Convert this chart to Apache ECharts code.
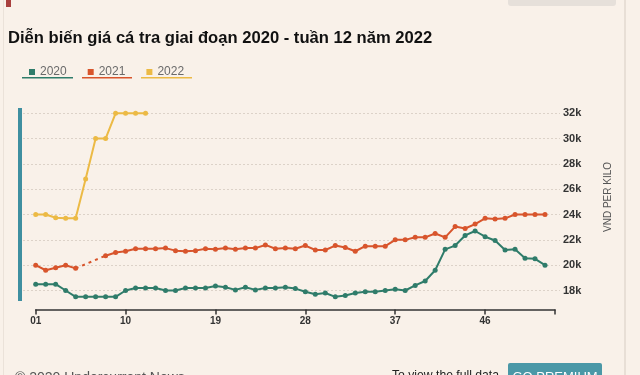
<!DOCTYPE html>
<html><head><meta charset="utf-8">
<script src="https://cdn.jsdelivr.net/npm/echarts@6/dist/echarts.min.js"></script>
<style>html,body{margin:0;padding:0;background:#f9f1e9;}#c{width:640px;height:375px;}</style>
</head><body><div id="c"></div>
<script>
// ---- data ----
var weeks = [];
for (var w = 1; w <= 53; w++) weeks.push(w < 10 ? '0' + w : '' + w);
var seriesNames = ['2020', '2021', '2022'];
var s2020 = [18500,18500,18500,18000,17500,17500,17500,17500,17500,18000,18200,18200,18200,18000,18000,18200,18200,18200,18350,18250,18050,18250,18050,18200,18200,18250,18150,17900,17700,17800,17500,17600,17800,17900,17900,18000,18100,18000,18400,18750,19600,21250,21550,22350,22700,22250,21950,21200,21250,20550,20500,20000];
var s2021 = [20000,19600,19800,20000,19750,null,null,20750,21000,21100,21300,21300,21300,21350,21150,21100,21150,21300,21250,21350,21250,21350,21350,21600,21300,21350,21300,21550,21200,21200,21550,21400,21100,21500,21500,21500,22000,22000,22200,22200,22500,22200,23050,22900,23250,23700,23650,23700,24000,24000,24000,24000];
var s2022 = [24000,24000,23750,23700,23700,26800,30000,30000,32000,32000,32000,32000];
var yTicksMin = 18000, yTicksMax = 32000, yTickStep = 2000;
var colors = ['#2f7c6a', '#d8552c', '#ecba45'];

// dashed bridge over missing weeks
function gapBridge(arr) {
  var out = arr.map(function () { return null; });
  for (var i = 0; i < arr.length; i++) {
    if (arr[i] === null) {
      var a = i - 1; while (a >= 0 && arr[a] === null) a--;
      var b = i + 1; while (b < arr.length && arr[b] === null) b++;
      if (a >= 0 && b < arr.length) { out[a] = arr[a]; out[b] = arr[b]; }
    }
  }
  return out;
}
var bridge2021 = gapBridge(s2021);

var chart = echarts.init(document.getElementById('c'));
var font = 'Liberation Sans, Arial, sans-serif';
function lineSeries(name, data, color) {
  return {
    name: name, type: 'line', data: data, xAxisIndex: 0, yAxisIndex: 0,
    symbol: 'circle', symbolSize: 5, showSymbol: true,
    itemStyle: { color: color }, lineStyle: { color: color, width: 2 },
    connectNulls: false, animation: false, z: 3
  };
}
chart.setOption({
  backgroundColor: '#f9f1e9',
  animation: false,
  color: colors,
  legend: {
    data: seriesNames, left: 24, top: 61, icon: 'rect', itemWidth: 6, itemHeight: 6, itemGap: 21,
    textStyle: { color: '#6a6a6a', fontSize: 12, fontFamily: font }, selectedMode: false
  },
  grid: [
    { left: 35.7, right: 85, top: 100.6, bottom: 65.5 },
    { left: 23, right: 80, top: 113.3, bottom: 84.5 }
  ],
  xAxis: [
    { type: 'category', gridIndex: 0, data: weeks, boundaryGap: false,
      axisLine: { lineStyle: { color: '#333', width: 1.5 } },
      axisTick: { length: 5, lineStyle: { color: '#333', width: 1.5 },
        interval: function (i) { return i % 9 === 0 || i === weeks.length - 1; } },
      axisLabel: { interval: function (i) { return i % 9 === 0; }, color: '#333', fontSize: 10, fontWeight: 'bold', fontFamily: font, margin: 7 },
      splitLine: { show: false } },
    { type: 'value', gridIndex: 1, min: 0, max: 1, show: false }
  ],
  yAxis: [
    { type: 'value', gridIndex: 0, min: 16500, max: 33000, show: false },
    { type: 'value', gridIndex: 1, position: 'right', min: yTicksMin, max: yTicksMax, interval: yTickStep,
      axisLine: { show: false }, axisTick: { show: false },
      axisLabel: { margin: 3, color: '#333', fontSize: 11, fontWeight: 'bold', fontFamily: font,
        formatter: function (v) { return (v / 1000) + 'k'; } },
      splitLine: { show: true, lineStyle: { color: '#dcd2c8', type: [2, 2], width: 1 } } }
  ],
  graphic: [
    { type: 'rect', shape: { x: 18, y: 108, width: 4, height: 193 }, style: { fill: '#3f8fa0' } },
    { type: 'rect', shape: { x: 6, y: 0, width: 5, height: 7 }, style: { fill: '#a9403e' } },
    { type: 'rect', shape: { x: 3, y: 0, width: 1, height: 375 }, style: { fill: '#ebe2d9' } },
    { type: 'rect', shape: { x: 624, y: 0, width: 2, height: 375 }, style: { fill: '#e8dfd6' } },
    { type: 'rect', shape: { x: 508, y: -4, width: 108, height: 10, r: 3 }, style: { fill: '#e6e0da' } },
    { type: 'text', x: 8, y: 38, style: { text: 'Diễn biến giá cá tra giai đoạn 2020 - tuần 12 năm 2022', fill: '#111', font: 'bold 16.6px ' + font, verticalAlign: 'middle' } },
    { type: 'rect', shape: { x: 22, y: 77, width: 51, height: 1.6 }, style: { fill: colors[0] } },
    { type: 'rect', shape: { x: 82, y: 77, width: 50, height: 1.6 }, style: { fill: colors[1] } },
    { type: 'rect', shape: { x: 141, y: 77, width: 51, height: 1.6 }, style: { fill: colors[2] } },
    { type: 'text', x: 608, y: 197, rotation: Math.PI / 2, style: { text: 'VND PER KILO', fill: '#555', font: '10px ' + font, align: 'center', verticalAlign: 'middle' } },
    { type: 'text', x: 15, y: 371, style: { text: '© 2020 Undercurrent News', fill: '#555', font: '14px ' + font, verticalAlign: 'top' } },
    { type: 'text', x: 392, y: 370, style: { text: 'To view the full data', fill: '#222', font: '12.2px ' + font, verticalAlign: 'top' } },
    { type: 'rect', shape: { x: 508, y: 363, width: 94, height: 20, r: 2 }, style: { fill: '#4b98a7' } },
    { type: 'text', x: 555, y: 371, style: { text: 'GO PREMIUM', fill: '#fff', font: '13px ' + font, align: 'center', verticalAlign: 'top' } }
  ],
  series: [
    lineSeries('2020', s2020, colors[0]),
    lineSeries('2021', s2021, colors[1]),
    lineSeries('2022', s2022, colors[2]),
    { name: '2021-gap', type: 'line', data: bridge2021, xAxisIndex: 0, yAxisIndex: 0, connectNulls: true,
      showSymbol: false, symbol: 'none', lineStyle: { color: colors[1], width: 2, type: [3, 4] }, z: 2 }
  ]
});
</script></body></html>
